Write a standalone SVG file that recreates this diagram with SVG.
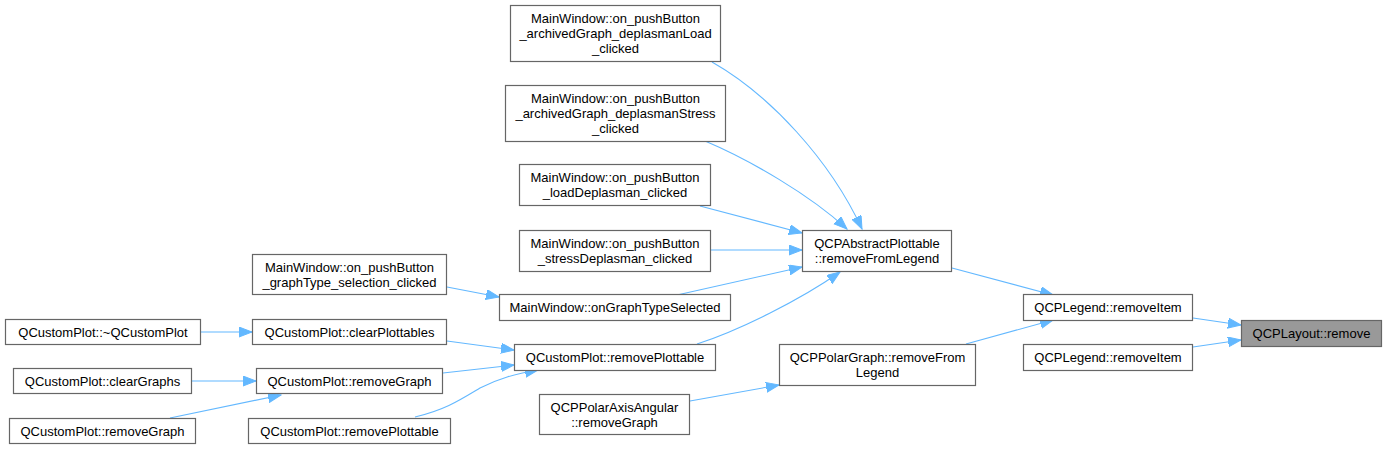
<svg xmlns="http://www.w3.org/2000/svg" width="1387" height="449" viewBox="0 0 1387 449">
<style>
.n rect{fill:#ffffff;stroke:#666666;stroke-width:1.2}
.n.hl rect{fill:#999999}
.n text{font-family:"Liberation Sans",Arial,Helvetica,sans-serif;font-size:13px;fill:#000000;text-anchor:middle}
.e path{fill:none;stroke:#63b8ff;stroke-width:1.1}
</style>
<defs>
<marker id="ah" markerUnits="userSpaceOnUse" markerWidth="14" markerHeight="11" refX="13" refY="5" orient="auto">
<path d="M0,0 L13,5 L0,10 z" fill="#63b8ff" stroke="#63b8ff" stroke-width="1"/>
</marker>
</defs>
<rect width="1387" height="449" fill="#ffffff"/>
<g id="edges" class="e">
<path d="M712,62 C770,95 830,160 862,229" marker-end="url(#ah)"/>
<path d="M705,141 C750,160 810,195 847,229" marker-end="url(#ah)"/>
<path d="M700,206 L802,233" marker-end="url(#ah)"/>
<path d="M711,250 L802,250" marker-end="url(#ah)"/>
<path d="M677,295 L802,267" marker-end="url(#ah)"/>
<path d="M697,344 C740,330 800,300 840,272" marker-end="url(#ah)"/>
<path d="M447,287 L499,297" marker-end="url(#ah)"/>
<path d="M201,332 L252,332" marker-end="url(#ah)"/>
<path d="M447,341 L514,350" marker-end="url(#ah)"/>
<path d="M443,373 L514,365" marker-end="url(#ah)"/>
<path d="M415,417 C445,410 460,400 480,388 C500,378 515,374 538,370" marker-end="url(#ah)"/>
<path d="M192,381 L256,381" marker-end="url(#ah)"/>
<path d="M170,418 L281,395" marker-end="url(#ah)"/>
<path d="M952,268 L1053,295" marker-end="url(#ah)"/>
<path d="M966,344 L1053,320" marker-end="url(#ah)"/>
<path d="M690,401 L779,385" marker-end="url(#ah)"/>
<path d="M1193,318 L1241,325" marker-end="url(#ah)"/>
<path d="M1193,347 L1241,340" marker-end="url(#ah)"/>
</g>
<g id="node1" class="n"><rect x="510.5" y="5.5" width="210" height="56"/><text x="615.5" y="23">MainWindow::on_pushButton</text><text x="615.5" y="38">_archivedGraph_deplasmanLoad</text><text x="615.5" y="53">_clicked</text></g>
<g id="node2" class="n"><rect x="505.5" y="85.5" width="220" height="56"/><text x="615.5" y="103">MainWindow::on_pushButton</text><text x="615.5" y="118">_archivedGraph_deplasmanStress</text><text x="615.5" y="133">_clicked</text></g>
<g id="node3" class="n"><rect x="519.5" y="164.5" width="191" height="41"/><text x="615" y="182">MainWindow::on_pushButton</text><text x="615" y="197">_loadDeplasman_clicked</text></g>
<g id="node4" class="n"><rect x="519.5" y="230.5" width="191" height="41"/><text x="615" y="248">MainWindow::on_pushButton</text><text x="615" y="263">_stressDeplasman_clicked</text></g>
<g id="node5" class="n"><rect x="802.5" y="230.5" width="149" height="41"/><text x="877" y="248">QCPAbstractPlottable</text><text x="877" y="263">::removeFromLegend</text></g>
<g id="node6" class="n"><rect x="499.5" y="294.5" width="231" height="26"/><text x="615" y="312">MainWindow::onGraphTypeSelected</text></g>
<g id="node7" class="n"><rect x="514.5" y="344.5" width="201" height="26"/><text x="615" y="362">QCustomPlot::removePlottable</text></g>
<g id="node8" class="n"><rect x="779.5" y="344.5" width="196" height="41"/><text x="877.5" y="362">QCPPolarGraph::removeFrom</text><text x="877.5" y="377">Legend</text></g>
<g id="node9" class="n"><rect x="539.5" y="394.5" width="150" height="40"/><text x="614.5" y="412">QCPPolarAxisAngular</text><text x="614.5" y="427">::removeGraph</text></g>
<g id="node10" class="n"><rect x="252.5" y="254.5" width="194" height="40"/><text x="349.5" y="272">MainWindow::on_pushButton</text><text x="349.5" y="287">_graphType_selection_clicked</text></g>
<g id="node11" class="n"><rect x="5.5" y="319.5" width="195" height="25"/><text x="103" y="337">QCustomPlot::~QCustomPlot</text></g>
<g id="node12" class="n"><rect x="252.5" y="319.5" width="194" height="25"/><text x="349.5" y="337">QCustomPlot::clearPlottables</text></g>
<g id="node13" class="n"><rect x="13.5" y="368.5" width="178" height="25"/><text x="102.5" y="386">QCustomPlot::clearGraphs</text></g>
<g id="node14" class="n"><rect x="256.5" y="368.5" width="186" height="25"/><text x="349.5" y="386">QCustomPlot::removeGraph</text></g>
<g id="node15" class="n"><rect x="9.5" y="418.5" width="186" height="25"/><text x="102.5" y="436">QCustomPlot::removeGraph</text></g>
<g id="node16" class="n"><rect x="248.5" y="418.5" width="202" height="25"/><text x="349.5" y="436">QCustomPlot::removePlottable</text></g>
<g id="node17" class="n"><rect x="1023.5" y="294.5" width="169" height="26"/><text x="1108" y="312">QCPLegend::removeItem</text></g>
<g id="node18" class="n"><rect x="1023.5" y="344.5" width="169" height="26"/><text x="1108" y="362">QCPLegend::removeItem</text></g>
<g id="node19" class="n hl"><rect x="1241.5" y="320.5" width="140" height="26"/><text x="1311.5" y="338">QCPLayout::remove</text></g>
</svg>
